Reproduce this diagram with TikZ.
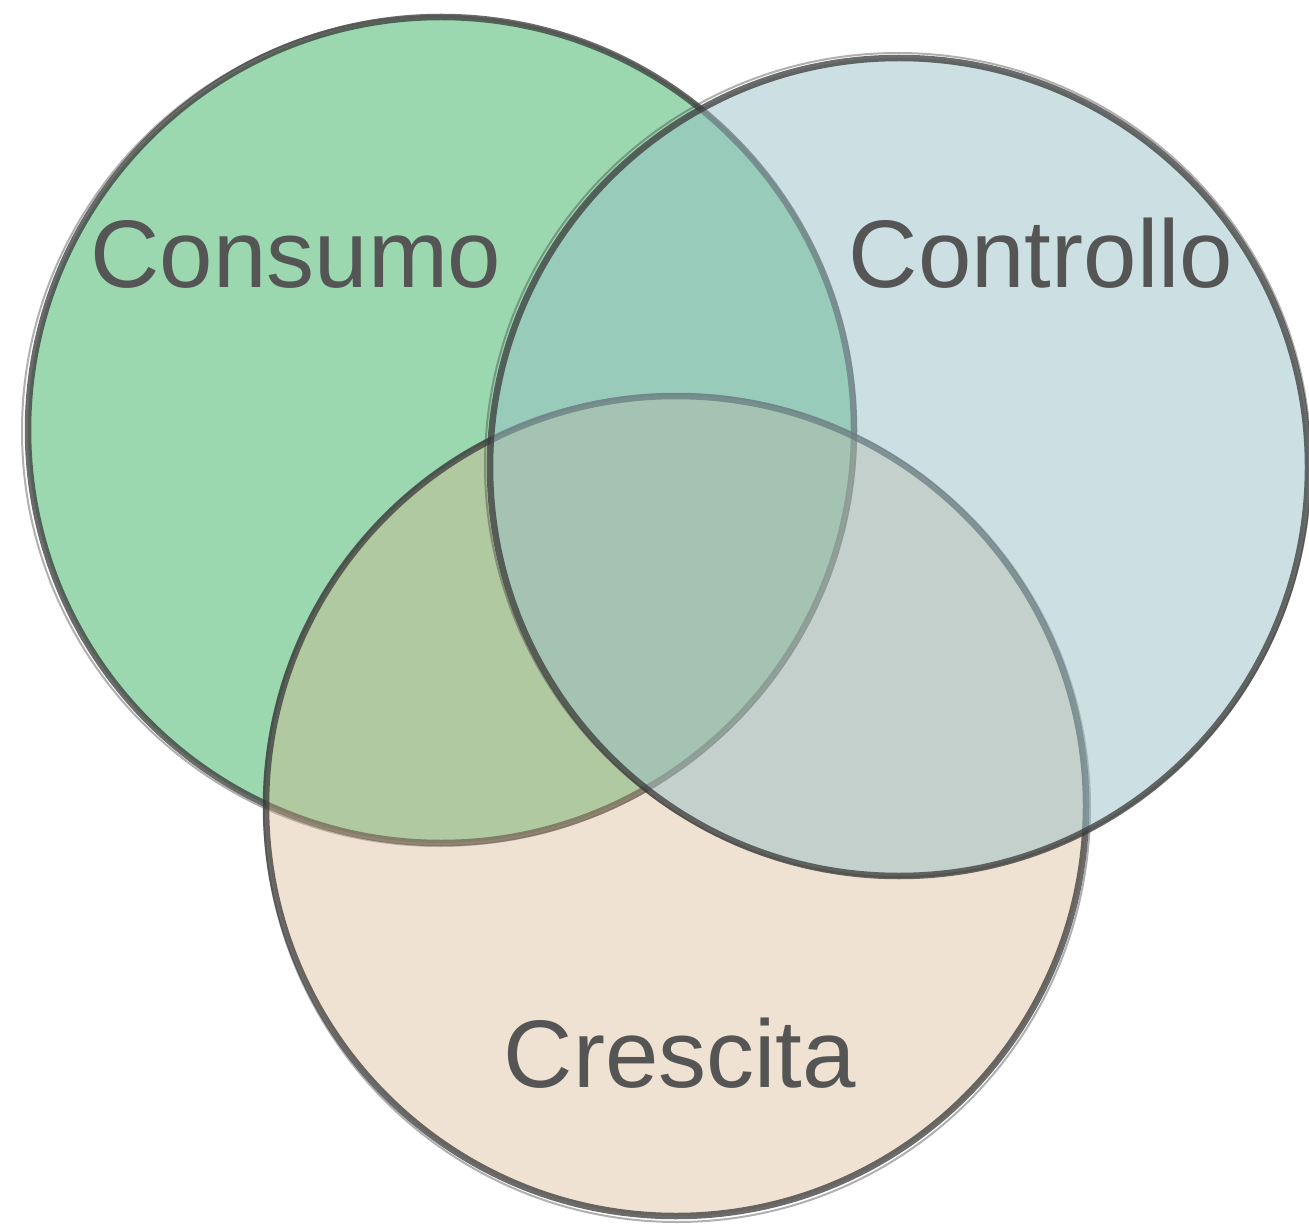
\documentclass[tikz,border=0pt]{standalone}
\usepackage{fontspec}
\setmainfont{Liberation Sans}
\definecolor{greenfill}{RGB}{155,216,176}
\definecolor{beigefill}{RGB}{213,177,133}
\definecolor{bluefill}{RGB}{153,191,199}
\definecolor{edge}{RGB}{58,58,58}
\definecolor{labeltext}{RGB}{85,85,85}
\tikzset{
  setedge/.style={draw=edge, line width=6.5pt, draw opacity=0.75},
  sketch/.style={draw=edge, line width=2pt, draw opacity=0.4},
  setlabel/.style={font=\fontsize{96}{110}\selectfont, text=labeltext, anchor=base, inner sep=0pt}
}
\begin{document}
\begin{tikzpicture}[x=1pt,y=-1pt]
\useasboundingbox (0,0) rectangle (1309,1230);
% Consumo (green)
\coordinate (cg) at (441,430);
\fill[greenfill] (cg) circle[radius=413];
\draw[setedge] (cg) circle[radius=413];
\draw[sketch] ([shift={(-2,1)}]cg) circle[x radius=417, y radius=415];
% Crescita (beige)
\coordinate (cc) at (676,806);
\fill[beigefill, fill opacity=0.37] (cc) circle[radius=410];
\draw[setedge] (cc) circle[radius=410];
\draw[sketch] ([shift={(1,2)}]cc) circle[x radius=413, y radius=414];
% Controllo (blue)
\coordinate (cb) at (899,467);
\fill[bluefill, fill opacity=0.5] (cb) circle[radius=409];
\draw[setedge] (cb) circle[radius=409];
\draw[sketch] ([shift={(-1,-2)}]cb) circle[x radius=413, y radius=412];
% labels
\node[setlabel] (consumo) at (296,288) {Consumo};
\node[setlabel] (controllo) at (1041,288) {Controllo};
\node[setlabel] (crescita) at (680,1087) {Crescita};
\end{tikzpicture}
\end{document}
